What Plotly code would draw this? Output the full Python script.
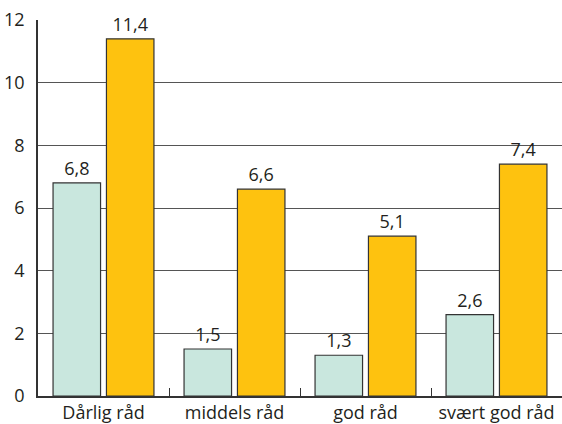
import plotly.graph_objects as go

categories = ["Dårlig råd", "middels råd", "god råd", "svært god råd"]
series_a = [6.8, 1.5, 1.3, 2.6]
series_b = [11.4, 6.6, 5.1, 7.4]
y_ticks = [0, 2, 4, 6, 8, 10, 12]

FONT = "Open Sans"
fig = go.Figure()
fig.add_trace(go.Bar(x=categories, y=series_a, marker=dict(color="#c9e7de", line=dict(color="#333333", width=1.2)),
                     texttemplate="%{y:.1f}", textposition="outside", cliponaxis=False,
                     textfont=dict(size=18, color="#231f20", family=FONT)))
fig.add_trace(go.Bar(x=categories, y=series_b, marker=dict(color="#fec20f", line=dict(color="#333333", width=1.2)),
                     texttemplate="%{y:.1f}", textposition="outside", cliponaxis=False,
                     textfont=dict(size=18, color="#231f20", family=FONT)))

fig.update_layout(
    width=562, height=424,
    margin=dict(l=38, r=0, t=20, b=28, autoexpand=False),
    paper_bgcolor="white", plot_bgcolor="white",
    separators=", ",
    showlegend=False,
    barmode="group", bargap=0.185, bargroupgap=0.11,
    font=dict(family=FONT, size=18, color="#231f20"),
    xaxis=dict(range=[-0.5, 3.5], showline=True, linecolor="#333333", linewidth=1.5,
               ticks="inside", tickson="boundaries", ticklen=8, tickcolor="#333333",
               automargin=False, ticklabelstandoff=0,
               tickfont=dict(size=18, family=FONT, color="#231f20"), showgrid=False),
    yaxis=dict(range=[0, 12], tickvals=y_ticks, showline=True, linecolor="#333333", linewidth=1.5,
               showgrid=True, gridcolor="#555555", gridwidth=1.2, ticks="", ticklabelstandoff=8,
               automargin=False,
               tickfont=dict(size=18, family=FONT, color="#231f20"), zeroline=False),
)
fig.write_html("out.html", config={"displayModeBar": False},
               post_script="document.body.style.margin='0';document.body.style.overflow='hidden';")
